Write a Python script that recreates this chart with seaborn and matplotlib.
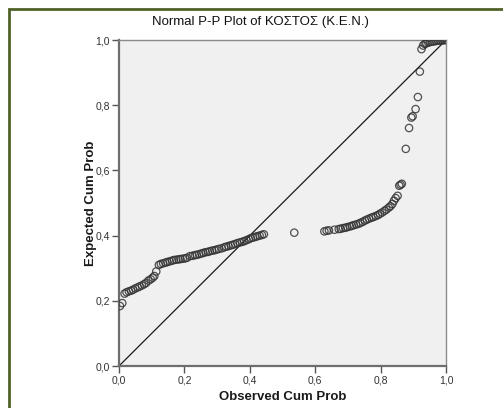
import matplotlib
matplotlib.use("Agg")
import matplotlib.pyplot as plt
import matplotlib.ticker as mticker
from matplotlib.patches import Rectangle
import seaborn as sns
import pandas as pd

# ---- data ----
seg_a_obs = [0.003, 0.010, 0.017, 0.023, 0.030, 0.037, 0.043, 0.050, 0.057, 0.063,
             0.070, 0.077, 0.083, 0.090, 0.097, 0.103, 0.108, 0.114]
seg_a_exp = [0.184, 0.193, 0.222, 0.226, 0.229, 0.231, 0.234, 0.238, 0.241, 0.244,
             0.247, 0.251, 0.255, 0.262, 0.266, 0.271, 0.276, 0.290]

seg_b_obs = [0.122, 0.128, 0.135, 0.142, 0.148, 0.155, 0.162, 0.168, 0.175, 0.182,
             0.188, 0.195, 0.202, 0.208, 0.217, 0.225, 0.232, 0.238, 0.245, 0.252,
             0.258, 0.265, 0.272, 0.278, 0.285, 0.292, 0.298, 0.305, 0.314, 0.322,
             0.328, 0.335, 0.342, 0.348, 0.355, 0.362, 0.370, 0.377, 0.383, 0.390,
             0.397, 0.403, 0.410, 0.417, 0.423, 0.430, 0.437, 0.443]
seg_b_exp = [0.310, 0.313, 0.315, 0.317, 0.319, 0.321, 0.323, 0.325, 0.326, 0.327,
             0.328, 0.329, 0.330, 0.332, 0.337, 0.338, 0.340, 0.341, 0.343, 0.345,
             0.347, 0.349, 0.350, 0.352, 0.354, 0.355, 0.357, 0.359, 0.361, 0.364,
             0.366, 0.368, 0.370, 0.372, 0.374, 0.377, 0.379, 0.381, 0.383, 0.386,
             0.389, 0.392, 0.394, 0.396, 0.398, 0.400, 0.402, 0.404]

seg_c_obs = [0.536]
seg_c_exp = [0.409]

seg_d_obs = [0.628, 0.635, 0.642, 0.659, 0.672, 0.678, 0.685, 0.692, 0.698, 0.706,
             0.712, 0.718, 0.725, 0.732, 0.738, 0.745, 0.752, 0.758, 0.765, 0.772,
             0.778, 0.785, 0.792, 0.798, 0.805, 0.812, 0.818, 0.825, 0.830, 0.836,
             0.841, 0.846, 0.852, 0.857, 0.861, 0.865]
seg_d_exp = [0.413, 0.415, 0.416, 0.418, 0.420, 0.421, 0.423, 0.424, 0.426, 0.428,
             0.430, 0.432, 0.434, 0.436, 0.439, 0.442, 0.446, 0.449, 0.452, 0.455,
             0.457, 0.460, 0.463, 0.467, 0.471, 0.476, 0.480, 0.486, 0.490, 0.497,
             0.507, 0.515, 0.522, 0.553, 0.556, 0.559]

seg_e_obs = [0.877, 0.887, 0.894, 0.898, 0.907, 0.914, 0.920, 0.925, 0.930, 0.935,
             0.940, 0.946, 0.952, 0.958, 0.964, 0.970, 0.976, 0.982, 0.988, 0.994, 1.000]
seg_e_exp = [0.666, 0.730, 0.762, 0.766, 0.788, 0.825, 0.903, 0.972, 0.983, 0.988,
             0.990, 0.992, 0.994, 0.995, 0.996, 0.997, 0.998, 0.998, 0.999, 0.999, 1.000]

ref_line = [0.0, 1.0]
tick_vals = [0.0, 0.2, 0.4, 0.6, 0.8, 1.0]

title = "Normal P-P Plot of ΚΟΣΤΟΣ (Κ.Ε.Ν.)"
xlabel = "Observed Cum Prob"
ylabel = "Expected Cum Prob"

df = pd.DataFrame({
    "obs": seg_a_obs + seg_b_obs + seg_c_obs + seg_d_obs + seg_e_obs,
    "exp": seg_a_exp + seg_b_exp + seg_c_exp + seg_d_exp + seg_e_exp,
})

# ---- style ----
sns.set_theme(style="white")
plt.rcParams["font.family"] = ["Liberation Sans", "DejaVu Sans"]

fig = plt.figure(figsize=(5.03, 4.08), dpi=100)
fig.patch.set_facecolor("white")

# outer olive frame (left/top visible)
fig.patches.append(Rectangle((9 / 503, -0.1), 1.2, 1.1 - 9 / 408,
                             transform=fig.transFigure, fill=False,
                             edgecolor="#4F6228", linewidth=2.0, zorder=0))

ax = fig.add_axes([119 / 503, 1 - 366 / 408, 327 / 503, 326 / 408])
ax.set_facecolor("#F0F0F0")

sns.lineplot(x=ref_line, y=ref_line, ax=ax, color="#1a1a1a", linewidth=0.9, zorder=2)
sns.scatterplot(data=df, x="obs", y="exp", ax=ax, s=28, facecolor="none",
                edgecolor="#333333", linewidth=0.9, alpha=0.85, zorder=3)

ax.set_xlim(0, 1)
ax.set_ylim(0, 1)
ax.set_xticks(tick_vals)
ax.set_yticks(tick_vals)
fmt = mticker.FuncFormatter(lambda v, p: f"{v:.1f}".replace(".", ","))
ax.xaxis.set_major_formatter(fmt)
ax.yaxis.set_major_formatter(fmt)
ax.tick_params(axis="both", which="major", direction="out", length=5, width=1,
               color="#555555", labelsize=7.5, labelcolor="#333333", pad=1.5,
               bottom=True, left=True, top=False, right=False)

for side in ["left", "bottom"]:
    ax.spines[side].set_color("#6e6e6e")
    ax.spines[side].set_linewidth(1.6)
for side in ["top", "right"]:
    ax.spines[side].set_color("#8a8a8a")
    ax.spines[side].set_linewidth(1.0)

ax.set_xlabel(xlabel, fontsize=9.5, fontweight="bold", color="#1a1a1a", labelpad=4.5)
ax.set_ylabel(ylabel, fontsize=9.5, fontweight="bold", color="#1a1a1a", labelpad=-1)

fig.text(260 / 503, 1 - 22 / 408, title, ha="center", va="center",
         fontsize=9.5, color="#111111")

fig.savefig("out.png", dpi=100)
